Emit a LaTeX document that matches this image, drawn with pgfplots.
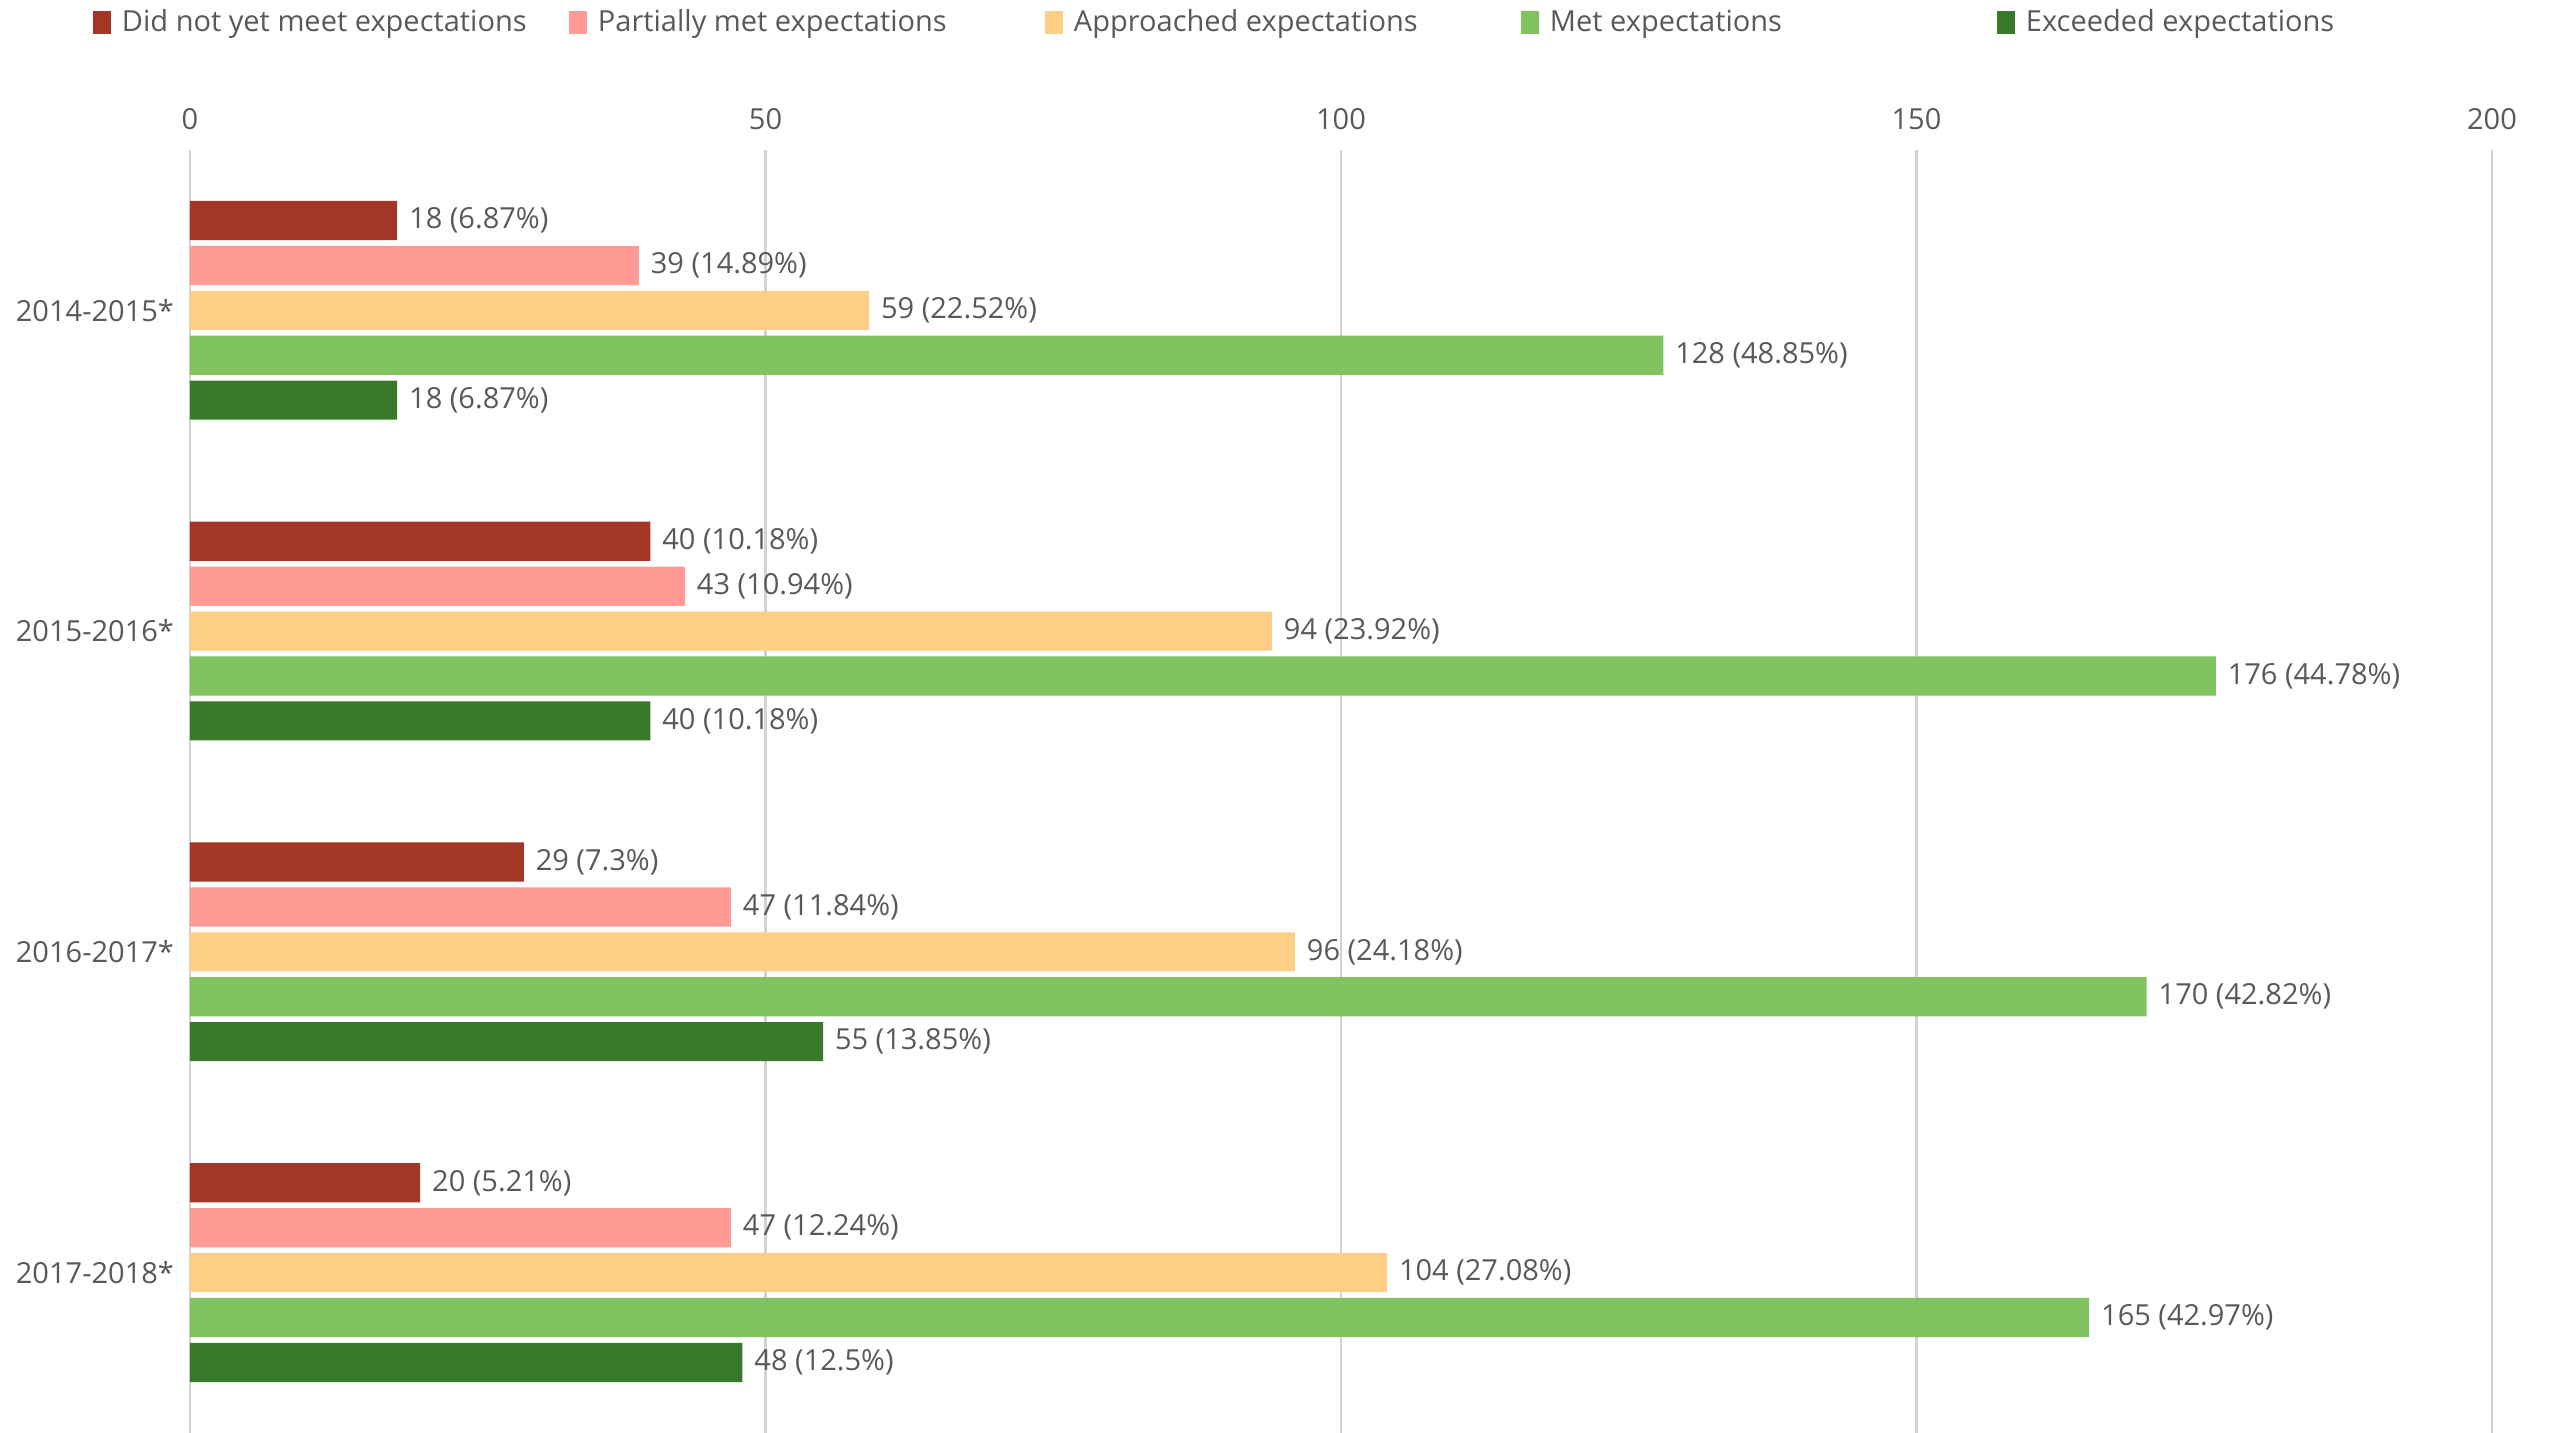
\documentclass[border=0pt]{standalone}
\usepackage{fontspec}
\setmainfont{Open Sans}
\usepackage{pgfplots}
\pgfplotsset{compat=1.18}
\usepackage{pgfplotstable}
\definecolor{c1}{HTML}{A33624}
\definecolor{c2}{HTML}{FF9A95}
\definecolor{c3}{HTML}{FDCE86}
\definecolor{c4}{HTML}{80C35F}
\definecolor{c5}{HTML}{387A29}
\definecolor{textc}{HTML}{595959}
\definecolor{gridc}{HTML}{D3D3D3}

\pgfplotstableread[col sep=comma]{
y,x,lab
0,18,18 (6.87\%)
1,40,40 (10.18\%)
2,29,29 (7.3\%)
3,20,20 (5.21\%)
}\tA
\pgfplotstableread[col sep=comma]{
y,x,lab
0,39,39 (14.89\%)
1,43,43 (10.94\%)
2,47,47 (11.84\%)
3,47,47 (12.24\%)
}\tB
\pgfplotstableread[col sep=comma]{
y,x,lab
0,59,59 (22.52\%)
1,94,94 (23.92\%)
2,96,96 (24.18\%)
3,104,104 (27.08\%)
}\tC
\pgfplotstableread[col sep=comma]{
y,x,lab
0,128,128 (48.85\%)
1,176,176 (44.78\%)
2,170,170 (42.82\%)
3,165,165 (42.97\%)
}\tD
\pgfplotstableread[col sep=comma]{
y,x,lab
0,18,18 (6.87\%)
1,40,40 (10.18\%)
2,55,55 (13.85\%)
3,48,48 (12.5\%)
}\tE

\begin{document}
\begin{tikzpicture}[font=\fontsize{8.7pt}{10pt}\selectfont]
\useasboundingbox (-57pt,0) rectangle (708.6pt,429.9pt);
\begin{axis}[
  at={(0,0)}, anchor=south west,
  scale only axis, width=690.6pt, height=384.9pt,
  xbar, bar width=0.122,
  xmin=0, xmax=200, ymin=-0.5, ymax=3.5, y dir=reverse,
  xtick={0,50,100,150,200},
  ytick={0,1,2,3},
  yticklabels={2014-2015*,2015-2016*,2016-2017*,2017-2018*},
  xticklabel pos=upper,
  axis line style={draw=none},
  major tick length=0pt,
  xmajorgrids=true,
  grid style={color=gridc, line width=0.8pt},
  tick label style={text=textc, /pgf/number format/assume math mode=true},
  xticklabel style={anchor=base, yshift=6.2pt},
  yticklabel style={xshift=-1.3pt},
  point meta=explicit symbolic,
  nodes near coords,
  nodes near coords style={text=textc, anchor=west, inner sep=0pt, xshift=3.4pt},
  legend columns=5,
  legend cell align=left,
  legend style={at={(axis description cs:0,1)}, anchor=west, xshift=-29.2pt, yshift=38.1pt,
    draw=none, fill=none, inner sep=0pt, outer sep=0pt, column sep=0pt, text=textc,
    nodes={inner sep=0pt}},
  legend image code/.code={\fill[#1,draw=none] (0pt,-3.45pt) rectangle (5.4pt,3.45pt);},
]
\addplot[fill=c1, draw=none, bar shift=-0.28] table[x=x,y=y,meta=lab] {\tA};
\addlegendentry{\makebox[137.4pt][l]{\hspace{3.4pt}Did not yet meet expectations}}
\addplot[fill=c2, draw=none, bar shift=-0.14] table[x=x,y=y,meta=lab] {\tB};
\addlegendentry{\makebox[137.4pt][l]{\hspace{3.4pt}Partially met expectations}}
\addplot[fill=c3, draw=none, bar shift=0] table[x=x,y=y,meta=lab] {\tC};
\addlegendentry{\makebox[137.4pt][l]{\hspace{3.4pt}Approached expectations}}
\addplot[fill=c4, draw=none, bar shift=0.14] table[x=x,y=y,meta=lab] {\tD};
\addlegendentry{\makebox[137.4pt][l]{\hspace{3.4pt}Met expectations}}
\addplot[fill=c5, draw=none, bar shift=0.28] table[x=x,y=y,meta=lab] {\tE};
\addlegendentry{\makebox[137.4pt][l]{\hspace{3.4pt}Exceeded expectations}}
\end{axis}
\end{tikzpicture}
\end{document}
